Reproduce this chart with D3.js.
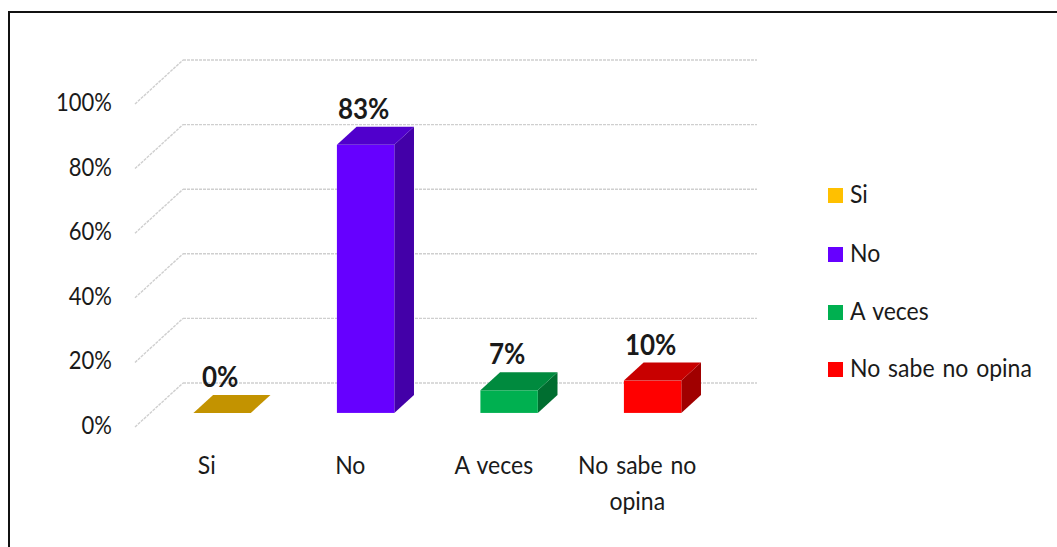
<!DOCTYPE html>
<html>
<head>
<meta charset="utf-8">
<script src="https://cdn.jsdelivr.net/npm/d3@7"></script>
<style>
  html, body { margin: 0; padding: 0; background: #fff; }
  svg { display: block; }
  text { font-family: Lato, "Open Sans", sans-serif; fill: #1a1a1a; }
</style>
</head>
<body>
<svg id="chart" width="1057" height="547"></svg>
<script>
const categories = ["Si", "No", "A veces", "No sabe no opina"];
const categoryLines = [["Si"], ["No"], ["A veces"], ["No sabe no", "opina"]];
const values = [0, 83, 7, 10];
const valueLabels = ["0%", "83%", "7%", "10%"];
const tickValues = [0, 20, 40, 60, 80, 100];
const tickLabels = ["0%", "20%", "40%", "60%", "80%", "100%"];
const frontColors = ["#FFC000", "#6600FF", "#00B050", "#FF0000"];
const topColors = ["#C39300", "#5000CC", "#008A3E", "#C80000"];
const sideColors = ["#A07800", "#4300A8", "#006E30", "#A00000"];

const svg = d3.select("#chart");
const SY = 1.13; // vertical stretch of the text, like the reference

function addText(parent, px, py, str, opts) {
  const t = parent.append("text")
    .attr("transform", `translate(${px},${py}) scale(1,${opts.sy || SY})`)
    .attr("text-anchor", opts.anchor || "start")
    .attr("font-size", opts.size)
    .attr("font-weight", opts.weight || "normal")
    .text(str);
  if (opts.dy) t.attr("dy", opts.dy);
  if (opts.ws) t.attr("word-spacing", opts.ws);
  return t;
}

// outer border
svg.append("rect").attr("x", 9).attr("y", 12).attr("width", 1100).attr("height", 600)
  .attr("fill", "none").attr("stroke", "#111").attr("stroke-width", 2);

// 3D geometry
const DX = 48, DY = -44;
const x = d3.scaleBand().domain(categories).range([135, 709]);
const y = d3.scaleLinear().domain([0, 100]).range([427, 104]);
const zFront = 0.32, zBack = 0.73;
const barFrac = 0.4;

const grid = svg.append("g");
tickValues.forEach(v => {
  const yf = y(v);
  grid.append("line")
    .attr("x1", x.range()[0]).attr("y1", yf)
    .attr("x2", x.range()[0] + DX).attr("y2", yf + DY)
    .attr("stroke", "#cfcfcf").attr("stroke-width", 1.4).attr("stroke-dasharray", "3,1");
  grid.append("line")
    .attr("x1", x.range()[0] + DX).attr("y1", yf + DY)
    .attr("x2", x.range()[1] + DX).attr("y2", yf + DY)
    .attr("stroke", "#cfcfcf").attr("stroke-width", 1.4).attr("stroke-dasharray", "3,1");
});

// y tick labels
const yl = svg.append("g");
tickValues.forEach((v, i) => {
  addText(yl, 112, y(v) + 7, tickLabels[i], {anchor: "end", size: 22});
});

// bars
const bars = svg.append("g");
categories.forEach((c, i) => {
  const bw = x.bandwidth() * barFrac;
  const x0 = x(c) + x.bandwidth() / 2 - bw / 2 + zFront * DX;
  const x1 = x0 + bw;
  const yb = y(0) + zFront * DY;
  const yt = y(values[i]) + zFront * DY;
  const ddx = (zBack - zFront) * DX, ddy = (zBack - zFront) * DY;
  const g = bars.append("g");
  if (values[i] > 0) {
    g.append("path")
      .attr("d", `M${x1},${yb}L${x1 + ddx},${yb + ddy}L${x1 + ddx},${yt + ddy}L${x1},${yt}Z`)
      .attr("fill", sideColors[i]);
    g.append("rect").attr("x", x0).attr("y", yt).attr("width", bw).attr("height", yb - yt)
      .attr("fill", frontColors[i]);
  }
  g.append("path")
    .attr("d", `M${x0},${yt}L${x1},${yt}L${x1 + ddx},${yt + ddy}L${x0 + ddx},${yt + ddy}Z`)
    .attr("fill", topColors[i]);
  addText(g, (x0 + x1) / 2 - 2, yt + ddy - 8, valueLabels[i],
    {anchor: "middle", size: 26, weight: "bold", sy: 1.1});
});

// category labels
const cat = svg.append("g");
categories.forEach((c, i) => {
  categoryLines[i].forEach((line, j) => {
    addText(cat, x(c) + x.bandwidth() / 2, 474 + j * 36, line,
      {anchor: "middle", size: 23, ws: 2});
  });
});

// legend
const legendY = [203, 262, 320, 377];
const legend = svg.append("g");
categories.forEach((c, i) => {
  legend.append("rect").attr("x", 828).attr("y", legendY[i] - 15)
    .attr("width", 15).attr("height", 15).attr("fill", frontColors[i]);
  addText(legend, 850, legendY[i], c, {size: 23, ws: 2});
});
</script>
</body>
</html>
